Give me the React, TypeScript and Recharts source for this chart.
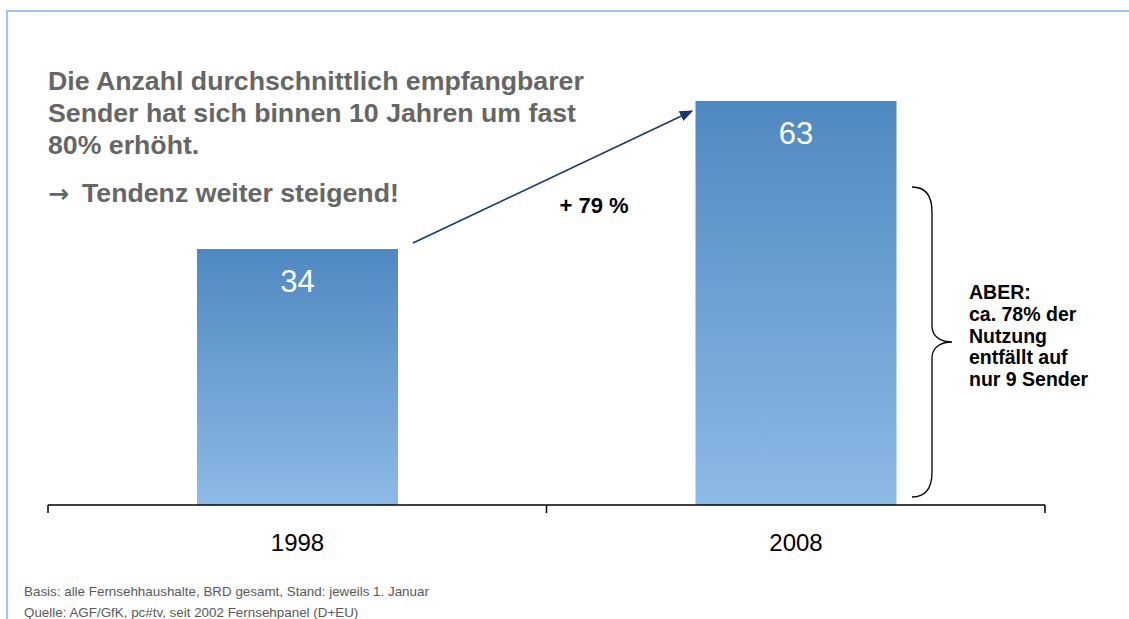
import { Bar, BarChart, LabelList, XAxis, YAxis } from 'recharts';

const years = ['1998', '2008'];
const channelCounts = [34, 63];
// the source slide does not start its value axis at zero
const axisFloor = -16.2;
// tick marks sit on the borders between the year slots
const edgeTicks = [0, 1, 2];

const titleLines = [
  'Die Anzahl durchschnittlich empfangbarer',
  'Sender hat sich binnen 10 Jahren um fast',
  '80% erhöht.',
];
const trendLine = 'Tendenz weiter steigend!';
const growthLabel = '+ 79 %';
const noteLines = ['ABER:', 'ca. 78% der', 'Nutzung', 'entfällt auf', 'nur 9 Sender'];
const footnotes = [
  'Basis: alle Fernsehhaushalte, BRD gesamt, Stand: jeweils 1. Januar',
  'Quelle: AGF/GfK, pc#tv, seit 2002 Fernsehpanel (D+EU)',
];

const data = years.map((year, i) => ({ year, slot: i + 0.5, value: channelCounts[i] }));

const font = '"Liberation Sans", Arial, sans-serif';

// the slot borders carry tick marks only, the year names come from the bars
const NoTickText = () => <g />;

const YearLabel = ({ x, y, width, height, value }: any) => (
  <text x={x + width / 2} y={y + height + 46} textAnchor="middle" fontSize={24} fill="#000" fontFamily={font}>
    {value}
  </text>
);

const BarValue = ({ x, y, width, value }: any) => (
  <text x={x + width / 2} y={y + 43} textAnchor="middle" fontSize={31} fill="#fff" fontFamily={font}>
    {value}
  </text>
);

export default function App() {
  return (
    <div style={{ position: 'absolute', left: 0, top: 0, width: 1129, height: 619, background: '#fff' }}>
      <BarChart
        width={1129}
        height={619}
        data={data}
        margin={{ top: 101, right: 84, bottom: 64, left: 48 }}
      >
        <defs>
          <linearGradient id="barFill" x1="0" y1="0" x2="0" y2="1">
            <stop offset="0%" stopColor="#4F88C1" />
            <stop offset="100%" stopColor="#8EBAE6" />
          </linearGradient>
        </defs>
        <XAxis
          dataKey="slot"
          type="number"
          domain={[0, years.length]}
          ticks={edgeTicks}
          allowDataOverflow
          interval={0}
          height={50}
          tick={<NoTickText />}
          tickSize={8}
          tickLine={{ stroke: '#000', strokeWidth: 1.5 }}
          axisLine={{ stroke: '#000', strokeWidth: 1.5 }}
        />
        <YAxis hide domain={[axisFloor, 'dataMax']} />
        <Bar
          dataKey={(d: any) => [axisFloor, d.value]}
          fill="url(#barFill)"
          barSize={201}
          isAnimationActive={false}
        >
          <LabelList dataKey="value" content={<BarValue />} />
          <LabelList dataKey="year" content={<YearLabel />} />
        </Bar>
      </BarChart>

      <svg
        width={1129}
        height={619}
        style={{ position: 'absolute', left: 0, top: 0, pointerEvents: 'none' }}
        fontFamily={font}
      >
        <defs>
          <marker id="arrowHead" viewBox="0 0 10 10" refX="9" refY="5" markerWidth="9" markerHeight="9" orient="auto">
            <path d="M0,1 L10,5 L0,9 z" fill="#17376E" />
          </marker>
        </defs>
        <path d="M7,619 V11 H1129" fill="none" stroke="#A2C4EA" strokeWidth={2} />

        {titleLines.map((line, i) => (
          <text key={line} x={48} y={89.5 + i * 32} fontSize={26.7} fontWeight="bold" fill="#666">
            {line}
          </text>
        ))}
        <text x={48} y={202} fontSize={26.7} fontWeight="bold" fill="#666">
          <tspan fontFamily='"DejaVu Sans", sans-serif' fontSize={25}>→</tspan>
          <tspan x={82}>{trendLine}</tspan>
        </text>

        <line x1={413} y1={243} x2={692} y2={111} stroke="#17376E" strokeWidth={1.5} markerEnd="url(#arrowHead)" />
        <text x={594} y={213} textAnchor="middle" fontSize={22} fontWeight="bold" fill="#000">
          {growthLabel}
        </text>

        <path
          d="M912,187 C925,187 932,195 932,212 L932,326 C932,336 940,342 952,342 C940,342 932,348 932,358 L932,472 C932,489 925,497 912,497"
          fill="none"
          stroke="#000"
          strokeWidth={1.3}
        />
        {noteLines.map((line, i) => (
          <text key={line} x={969} y={299 + i * 21.8} fontSize={19.5} fontWeight="bold" fill="#000">
            {line}
          </text>
        ))}

        {footnotes.map((line, i) => (
          <text key={line} x={24} y={596 + i * 21} fontSize={13.4} fill="#595959">
            {line}
          </text>
        ))}
      </svg>
    </div>
  );
}
